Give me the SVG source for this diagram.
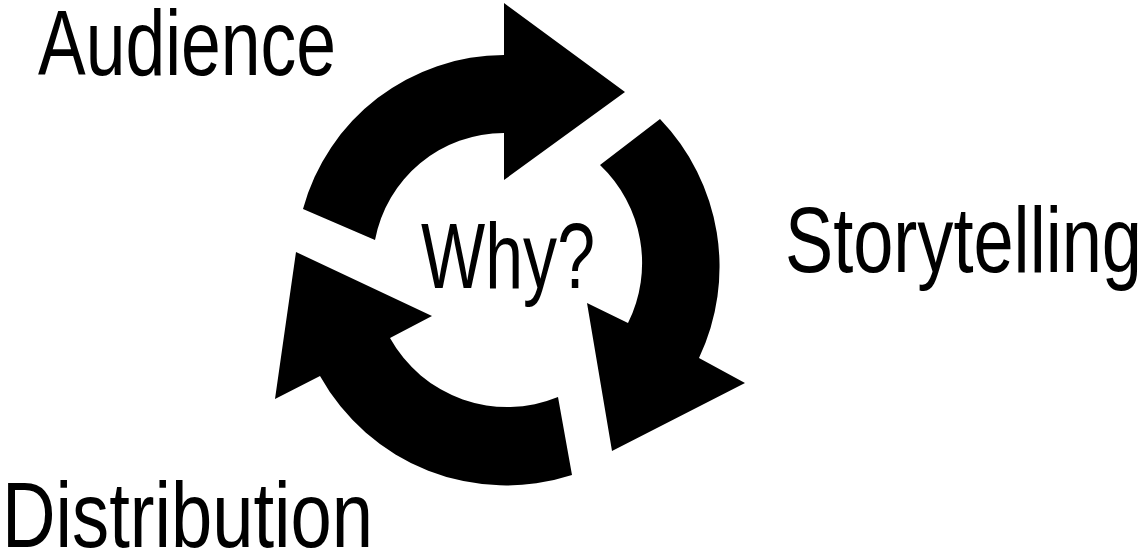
<svg xmlns="http://www.w3.org/2000/svg" width="1147" height="550" viewBox="0 0 1147 550">
<style>
.arrow{fill:#000;stroke:none}
.lbl{font-family:"Liberation Sans","Open Sans",Arial,sans-serif;font-size:93px;fill:#000}
</style>
<rect width="1147" height="550" fill="#fff"/>
<g id="connectors">
<path id="arrow-audience-storytelling" class="arrow" d="M303,209 A209,209 0 0,1 504,55 L504,3 L625,92 L504,180 L504,133 A131,131 0 0,0 375,240 Z"/>
<path id="arrow-storytelling-distribution" class="arrow" d="M660,119 A213,213 0 0,1 699,358 L745,383 L612,451 L587,303 L628,323 A135,135 0 0,0 600,165 Z"/>
<path id="arrow-distribution-audience" class="arrow" d="M572,475 A213,213 0 0,1 320,376 L275,399 L296,252 L432,316 L390,338 A134,134 0 0,0 558,397 Z"/>
</g>
<g id="node-audience"><text class="lbl" x="38" y="75" textLength="298" lengthAdjust="spacingAndGlyphs">Audience</text></g>
<g id="node-storytelling"><text class="lbl" x="785" y="272" textLength="357" lengthAdjust="spacingAndGlyphs">Storytelling</text></g>
<g id="node-distribution"><text class="lbl" x="2" y="547" textLength="371" lengthAdjust="spacingAndGlyphs">Distribution</text></g>
<g id="node-why"><text class="lbl" x="421" y="288" textLength="174" lengthAdjust="spacingAndGlyphs">Why?</text></g>
</svg>
